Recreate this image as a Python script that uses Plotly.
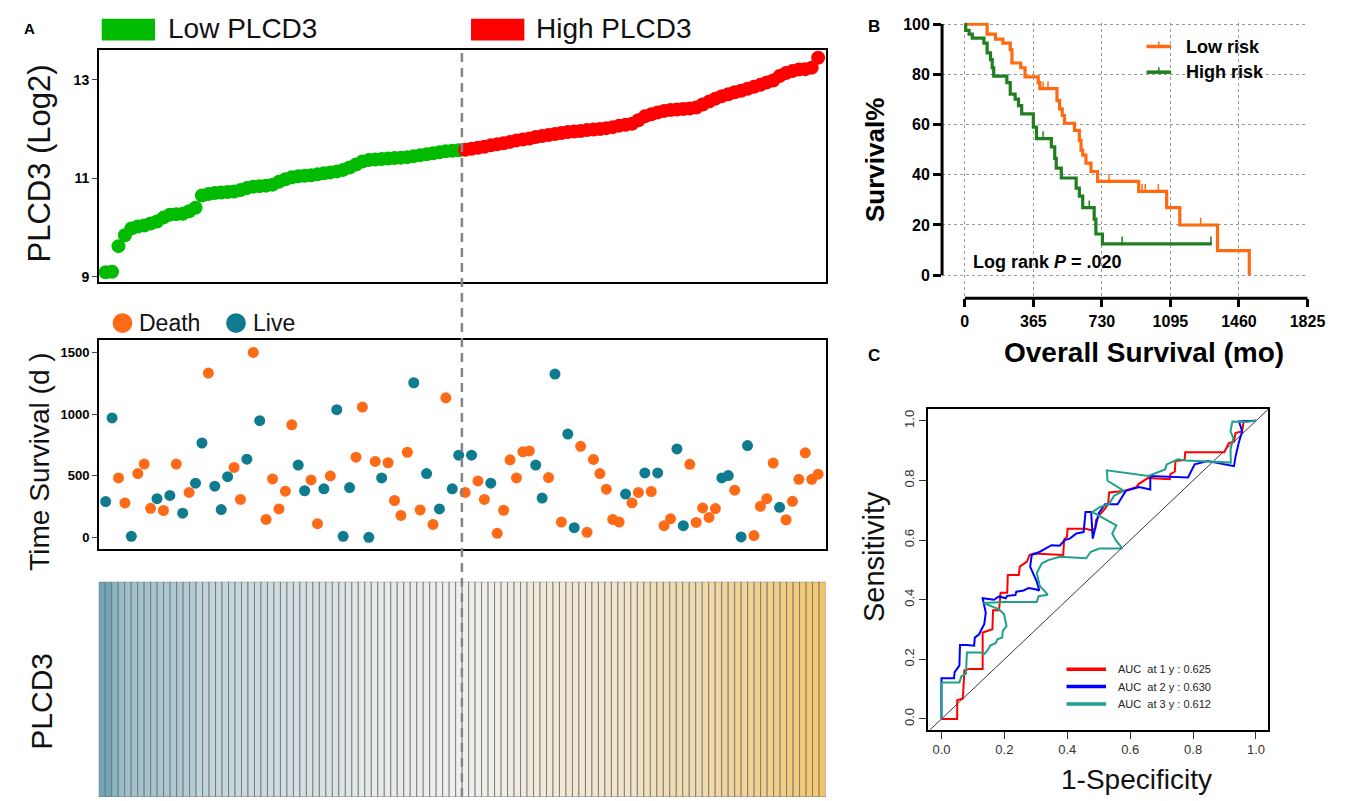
import plotly.graph_objects as go

W, H = 1359, 801
def fx(p): return p / W
def fy(p): return 1 - p / H

# ---------------- data ----------------
expr_low = [9.09, 9.10, 9.62, 9.84, 9.98, 10.02, 10.04, 10.08, 10.12, 10.20,
            10.26, 10.27, 10.28, 10.33, 10.40, 10.65, 10.68, 10.70, 10.71, 10.72,
            10.73, 10.76, 10.80, 10.83, 10.84, 10.85, 10.87, 10.93, 10.98, 11.02,
            11.04, 11.05, 11.06, 11.08, 11.10, 11.12, 11.14, 11.17, 11.22, 11.28,
            11.34, 11.37, 11.38, 11.39, 11.40, 11.41, 11.42, 11.43, 11.45, 11.47,
            11.49, 11.51, 11.53, 11.55, 11.56, 11.57]
expr_high = [11.58, 11.60, 11.62, 11.64, 11.67, 11.69, 11.71, 11.74, 11.77, 11.79,
             11.81, 11.84, 11.86, 11.88, 11.90, 11.92, 11.94, 11.95, 11.96, 11.98,
             11.99, 12.00, 12.02, 12.04, 12.07, 12.09, 12.11, 12.18, 12.26, 12.30,
             12.34, 12.37, 12.39, 12.40, 12.41, 12.42, 12.44, 12.50, 12.56, 12.62,
             12.67, 12.71, 12.75, 12.78, 12.82, 12.86, 12.90, 12.95, 12.99, 13.08,
             13.14, 13.18, 13.21, 13.22, 13.25, 13.45]

surv_days = [291, 969, 483, 280, 10, 518, 595, 237, 315, 219, 341, 595, 197, 365, 440,
             766, 1332, 416, 227, 493, 568, 309, 635, 1500, 947, 147, 475, 232, 376, 913,
             587, 379, 467, 112, 395, 499, 1036, 10, 405, 651, 1057, 2, 617, 483, 606,
             300, 179, 691, 1254, 224, 518, 106, 232, 1132, 395, 667,
             365, 667, 459, 309, 440, 34, 221, 630, 483, 694, 702, 587, 320, 486, 1324,
             125, 838, 80, 739, 42, 633, 518, 392, 147, 125, 352, 280, 365, 523, 373,
             523, 96, 152, 718, 96, 593, 122, 240, 163, 235, 483, 502, 384, 5, 745,
             16, 253, 315, 603, 245, 144, 293, 472, 686, 472, 513]
# 1 = Death, 0 = Live
surv_status = [0, 0, 1, 1, 0, 1, 1, 1, 0, 1, 0, 1, 0, 1, 0,
               0, 1, 0, 0, 0, 1, 1, 0, 1, 0, 1, 1, 1, 1, 1,
               0, 0, 1, 1, 0, 1, 0, 0, 0, 1, 1, 0, 1, 0, 1,
               1, 1, 1, 0, 1, 0, 1, 0, 1, 0, 0,
               1, 0, 1, 1, 0, 1, 1, 1, 1, 1, 1, 0, 0, 1, 0,
               1, 0, 0, 1, 1, 1, 1, 1, 1, 1, 0, 1, 1, 0, 1,
               0, 1, 1, 0, 0, 1, 1, 1, 1, 1, 0, 0, 1, 0, 0,
               1, 1, 1, 1, 0, 1, 1, 1, 1, 1, 1]

km_low_t = [0, 119, 163, 203, 242, 251, 298, 321, 391, 400, 491, 505, 519, 531, 584,
            610, 619, 628, 645, 672, 707, 926, 1075, 1145, 1346, 1515]
km_low_s = [100, 96, 94, 92.4, 89.8, 84.5, 82.6, 79, 76.7, 74.3, 69.5, 66.2, 63.6, 60.5, 57.7,
            53.7, 49.8, 47.8, 44.6, 41.3, 37.4, 33.4, 26.9, 20, 9.8, 0]
km_low_cens = [417, 443, 768, 944, 961, 1031, 1256]
km_high_t = [0, 5, 23, 40, 102, 119, 137, 146, 154, 224, 242, 268, 286, 303, 365, 382,
             461, 479, 487, 514, 593, 610, 628, 689, 698, 733, 1315]
km_high_s = [100, 97.5, 96, 94.4, 92.4, 88.5, 85.8, 82.6, 79.3, 76.7, 72.1, 70.1, 67.5, 64.2,
             59, 54.4, 51.1, 46.5, 42.6, 38.7, 34.7, 31.5, 26.9, 22.3, 16.4, 12.5, 12.5]
km_high_cens = [417, 663, 838, 1311]

roc1_x = [0, 0.05, 0.05, 0.068, 0.073, 0.089, 0.131, 0.131, 0.146, 0.162, 0.164, 0.183, 0.188,
          0.209, 0.211, 0.246, 0.249, 0.272, 0.280, 0.293, 0.387, 0.390, 0.399, 0.401, 0.460,
          0.475, 0.489, 0.491, 0.507, 0.517, 0.530, 0.533, 0.580, 0.619, 0.627, 0.656, 0.726,
          0.728, 0.742, 0.744, 0.773, 0.775, 0.899, 0.914, 0.930, 0.935, 0.956, 0.961, 1.0]
roc1_y = [0, 0, 0.063, 0.069, 0.163, 0.168, 0.168, 0.290, 0.295, 0.301, 0.365, 0.365, 0.423,
          0.423, 0.483, 0.483, 0.511, 0.528, 0.550, 0.555, 0.550, 0.602, 0.611, 0.638, 0.638,
          0.633, 0.638, 0.666, 0.690, 0.701, 0.721, 0.760, 0.765, 0.777, 0.788, 0.808, 0.804,
          0.821, 0.830, 0.865, 0.868, 0.895, 0.895, 0.926, 0.929, 0.959, 0.965, 0.998, 1.0]
roc2_x = [0, 0, 0.040, 0.042, 0.057, 0.059, 0.081, 0.104, 0.106, 0.120, 0.123, 0.136, 0.141,
          0.131, 0.167, 0.183, 0.204, 0.209, 0.235, 0.238, 0.261, 0.277, 0.298, 0.311, 0.303,
          0.282, 0.287, 0.313, 0.350, 0.376, 0.392, 0.408, 0.429, 0.452, 0.458, 0.476, 0.481,
          0.500, 0.520, 0.560, 0.586, 0.628, 0.664, 0.664, 0.784, 0.805, 0.846, 0.930, 0.935,
          0.945, 0.956, 0.946, 1.0]
roc2_y = [0, 0.137, 0.137, 0.157, 0.179, 0.248, 0.248, 0.246, 0.273, 0.284, 0.292, 0.318, 0.356,
          0.405, 0.400, 0.411, 0.405, 0.413, 0.416, 0.427, 0.431, 0.439, 0.435, 0.431, 0.461,
          0.511, 0.550, 0.561, 0.583, 0.581, 0.600, 0.605, 0.622, 0.627, 0.694, 0.694, 0.605,
          0.690, 0.720, 0.720, 0.765, 0.778, 0.770, 0.815, 0.810, 0.854, 0.865, 0.848, 0.880,
          0.926, 0.965, 0.998, 1.0]
roc3_x = [0, 0, 0.057, 0.063, 0.078, 0.081, 0.125, 0.136, 0.146, 0.155, 0.172, 0.178, 0.193,
          0.195, 0.207, 0.199, 0.183, 0.134, 0.199, 0.303, 0.309, 0.338, 0.324, 0.313, 0.303,
          0.319, 0.340, 0.376, 0.460, 0.475, 0.502, 0.575, 0.554, 0.543, 0.556, 0.480, 0.502,
          0.533, 0.549, 0.580, 0.528, 0.526, 0.658, 0.711, 0.716, 0.752, 0.778, 0.920, 0.919,
          0.928, 0.919, 0.925, 0.961, 1.0]
roc3_y = [0, 0.122, 0.122, 0.143, 0.152, 0.223, 0.223, 0.218, 0.229, 0.246, 0.254, 0.267, 0.273,
          0.295, 0.312, 0.351, 0.368, 0.389, 0.392, 0.392, 0.412, 0.417, 0.434, 0.445, 0.489,
          0.522, 0.533, 0.544, 0.539, 0.561, 0.572, 0.572, 0.600, 0.622, 0.649, 0.694, 0.710,
          0.721, 0.749, 0.765, 0.799, 0.834, 0.815, 0.837, 0.854, 0.871, 0.867, 0.860, 0.904,
          0.942, 0.965, 0.998, 0.996, 1.0]
roc_labels = ["AUC  at 1 y : 0.625", "AUC  at 2 y : 0.630", "AUC  at 3 y : 0.612"]
km_ticks = [0, 365, 730, 1095, 1460, 1825]

# ---------------- derived ----------------
expr = expr_low + expr_high
n = len(expr)
idx = list(range(1, n + 1))
n_low = len(expr_low)
split = n_low + 0.5

def step_val(ts, ss, t):
    v = ss[0]
    for a, b in zip(ts, ss):
        if a <= t:
            v = b
    return v

GREEN = '#00bb00'
RED = '#ff0000'
ORANGE = '#ff6a17'
TEAL = '#0e7b8f'
KM_OR = '#ff6a10'
KM_GR = '#1f7f1f'
FONT = 'Liberation Sans, Arial, sans-serif'

fig = go.Figure()

# --- Panel A top: expression ---
fig.add_trace(go.Scatter(x=idx[:n_low], y=expr_low, mode='markers',
                         marker=dict(size=14, color=GREEN), xaxis='x', yaxis='y'))
fig.add_trace(go.Scatter(x=idx[n_low:], y=expr_high, mode='markers',
                         marker=dict(size=14, color=RED), xaxis='x', yaxis='y'))

# --- Panel A middle: survival time ---
dx = [i for i, s in zip(idx, surv_status) if s == 1]
dy = [t for t, s in zip(surv_days, surv_status) if s == 1]
lx = [i for i, s in zip(idx, surv_status) if s == 0]
ly = [t for t, s in zip(surv_days, surv_status) if s == 0]
fig.add_trace(go.Scatter(x=dx, y=dy, mode='markers', marker=dict(size=11, color=ORANGE),
                         xaxis='x2', yaxis='y2'))
fig.add_trace(go.Scatter(x=lx, y=ly, mode='markers', marker=dict(size=11, color=TEAL),
                         xaxis='x2', yaxis='y2'))

# --- Panel A bottom: heat strip ---
emin, emax = min(expr), max(expr)
med = (expr_low[-1] + expr_high[0]) / 2
p = (med - emin) / (emax - emin)
fig.add_trace(go.Bar(x=idx, y=[1] * n, base=0, width=1,
                     marker=dict(color=expr, cmin=emin, cmax=emax,
                                 colorscale=[[0, '#70a6ba'], [p, '#f0f0ee'], [1, '#f3c465']],
                                 line=dict(color='#6f6f6f', width=0.8), showscale=False),
                     xaxis='x3', yaxis='y3'))

# --- Panel B: KM ---
fig.add_trace(go.Scatter(x=km_low_t, y=km_low_s, mode='lines', line=dict(color=KM_OR, width=3.2, shape='hv'),
                         xaxis='x4', yaxis='y4'))
fig.add_trace(go.Scatter(x=km_high_t, y=km_high_s, mode='lines', line=dict(color=KM_GR, width=3.2, shape='hv'),
                         xaxis='x4', yaxis='y4'))
fig.add_trace(go.Scatter(x=km_low_cens, y=[step_val(km_low_t, km_low_s, t) + 1.2 for t in km_low_cens],
                         mode='markers', marker=dict(symbol='line-ns', size=6, line=dict(color=KM_OR, width=1.5)),
                         xaxis='x4', yaxis='y4'))
fig.add_trace(go.Scatter(x=km_high_cens, y=[step_val(km_high_t, km_high_s, t) + 1.2 for t in km_high_cens],
                         mode='markers', marker=dict(symbol='line-ns', size=6, line=dict(color=KM_GR, width=1.5)),
                         xaxis='x4', yaxis='y4'))

# --- Panel C: ROC ---
fig.add_trace(go.Scatter(x=[-0.04, 1.04], y=[-0.04, 1.04], mode='lines',
                         line=dict(color='#222', width=0.9), xaxis='x5', yaxis='y5'))
roc_colors = ['#ff0000', '#0000ff', '#1fa08b']
for rx, ry, c in [(roc1_x, roc1_y, roc_colors[0]), (roc2_x, roc2_y, roc_colors[1]),
                  (roc3_x, roc3_y, roc_colors[2])]:
    fig.add_trace(go.Scatter(x=rx, y=ry, mode='lines', line=dict(color=c, width=2),
                             xaxis='x5', yaxis='y5'))

box = dict(showline=True, mirror=True, linecolor='black', linewidth=1.5, zeroline=False, showgrid=False)
xr = [1 - 7 / 6.5, 1 + 729 / 6.5]

layout = dict(
    width=W, height=H, margin=dict(l=0, r=0, t=0, b=0), autosize=False,
    paper_bgcolor='white', plot_bgcolor='white', showlegend=False,
    font=dict(family=FONT, color='black'),
    xaxis=dict(domain=[fx(100), fx(836)], range=xr, showticklabels=False, ticks='', **box),
    yaxis=dict(domain=[fy(278), fy(44)], range=[8.9, 13.6], tickvals=[9, 11, 13],
               ticks='outside', ticklen=5, tickwidth=1.2,
               tickfont=dict(size=14, family=FONT, weight='bold'), **box),
    xaxis2=dict(domain=[fx(100), fx(836)], range=xr, showticklabels=False, ticks='', anchor='y2', **box),
    yaxis2=dict(domain=[fy(549), fy(337)], range=[-94, 1602], tickvals=[0, 500, 1000, 1500],
                ticks='outside', ticklen=5, tickwidth=1.2, anchor='x2',
                tickfont=dict(size=13, family=FONT, weight='bold'), **box),
    xaxis3=dict(domain=[fx(100), fx(836)], range=[0.5, n + 0.5], visible=False, anchor='y3'),
    yaxis3=dict(domain=[fy(800), fy(582)], range=[0, 1], visible=False, anchor='x3'),
    xaxis4=dict(domain=[fx(954), fx(1325)], range=[-121, 1830], tickvals=km_ticks,
                ticks='outside', ticklen=8, tickwidth=2.5, tickcolor='black', anchor='y4',
                showline=False, zeroline=False, showgrid=True, gridcolor='#9a9a9a',
                griddash='dot', gridwidth=1,
                tickfont=dict(size=16, family=FONT, weight='bold')),
    yaxis4=dict(domain=[fy(295), fy(16)], range=[-9.2, 100.5], tickvals=[0, 20, 40, 60, 80, 100],
                ticks='outside', ticklen=8, tickwidth=2.5, tickcolor='black', anchor='x4',
                showline=False, zeroline=False, showgrid=True, gridcolor='#9a9a9a',
                griddash='dot', gridwidth=1,
                tickfont=dict(size=16, family=FONT, weight='bold')),
    xaxis5=dict(domain=[fx(940), fx(1284)], range=[-0.042, 1.038], tickvals=[0, 0.2, 0.4, 0.6, 0.8, 1.0],
                tickformat='.1f', ticks='outside', ticklen=7, tickcolor='#333', anchor='y5',
                tickfont=dict(size=13, color='#333'), **box),
    yaxis5=dict(domain=[fy(732), fy(407)], range=[-0.0365, 1.04], tickvals=[0, 0.2, 0.4, 0.6, 0.8, 1.0],
                tickformat='.1f', ticks='outside', ticklen=7, tickcolor='#333', anchor='x5',
                tickangle=-90, tickfont=dict(size=13, color='#333'), **box),
)
fig.update_layout(**layout)

shapes = []
# split dashed line through panel A
shapes.append(dict(type='line', xref='x', yref='paper', x0=split, x1=split,
                   y0=fy(800), y1=fy(44), layer='above',
                   line=dict(color='#858585', width=2.5, dash='9px,6px')))
# KM detached axis lines
shapes.append(dict(type='line', xref='x4 domain', yref='y4', x0=0, x1=0, y0=0, y1=100,
                   line=dict(color='black', width=3)))
shapes.append(dict(type='line', xref='x4', yref='y4 domain', x0=0, x1=1825, y0=0, y1=0,
                   line=dict(color='black', width=3)))
# top legend rectangles
shapes.append(dict(type='rect', xref='paper', yref='paper', x0=fx(103), x1=fx(157), y0=fy(34), y1=fy(12),
                   fillcolor=GREEN, line=dict(width=0)))
shapes.append(dict(type='rect', xref='paper', yref='paper', x0=fx(477), x1=fx(531), y0=fy(34), y1=fy(12),
                   fillcolor=RED, line=dict(width=0)))
# Death / Live legend dots
shapes.append(dict(type='circle', xref='paper', yref='paper', x0=fx(114), x1=fx(134), y0=fy(330), y1=fy(310),
                   fillcolor=ORANGE, line=dict(width=0)))
shapes.append(dict(type='circle', xref='paper', yref='paper', x0=fx(229), x1=fx(249), y0=fy(330), y1=fy(310),
                   fillcolor=TEAL, line=dict(width=0)))
# KM legend
for yy, c in [(40, KM_OR), (66, KM_GR)]:
    shapes.append(dict(type='line', xref='paper', yref='paper', x0=fx(1161), x1=fx(1186), y0=fy(yy), y1=fy(yy),
                       line=dict(color=c, width=3.5)))
    shapes.append(dict(type='line', xref='paper', yref='paper', x0=fx(1173.5), x1=fx(1173.5),
                       y0=fy(yy), y1=fy(yy - 5), line=dict(color=c, width=1.5)))
# ROC legend
for k, c in enumerate(roc_colors):
    yy = 670.7 + 17.5 * k
    shapes.append(dict(type='line', xref='paper', yref='paper', x0=fx(1080), x1=fx(1120), y0=fy(yy), y1=fy(yy),
                       line=dict(color=c, width=3.5)))
fig.update_layout(shapes=shapes)

ann = []
def txt(x, y, s, size, xanchor='center', angle=0, bold=False, color='black', family=FONT):
    ann.append(dict(xref='paper', yref='paper', x=fx(x), y=fy(y), text=s, showarrow=False,
                    xanchor=xanchor, yanchor='middle', textangle=angle,
                    font=dict(size=size, color=color, family=family, weight='bold' if bold else 'normal')))

txt(30, 22, 'A', 15, bold=True)
txt(885, 20, 'B', 17, bold=True)
txt(885, 353, 'C', 17, bold=True)
txt(168, 22, 'Low PLCD3', 28, xanchor='left', color='#111')
txt(541, 22, 'High PLCD3', 28, xanchor='left', color='#111')
txt(40, 158, 'PLCD3 (Log2)', 31, angle=-90, color='#111')
txt(139, 320, 'Death', 23, xanchor='left', color='#111')
txt(254, 320, 'Live', 23, xanchor='left', color='#111')
txt(40, 460, 'Time Survival (d )', 28, angle=-90, color='#111')
txt(42, 703, 'PLCD3', 30, angle=-90, color='#111')
# KM
txt(886, 155, 'Survival%', 26, angle=-90, bold=True)
txt(1158, 350, 'Overall Survival (mo)', 28, bold=True)
txt(1199, 40, 'Low risk', 18, xanchor='left', bold=True)
txt(1199, 66, 'High risk', 18, xanchor='left', bold=True)
txt(983, 258, 'Log rank <i>P</i> = .020', 18, xanchor='left', bold=True)
# ROC
txt(885, 556, 'Sensitivity', 29, angle=-90, color='#111')
txt(1151, 782, '1-Specificity', 28, color='#111')
for k, s in enumerate(roc_labels):
    txt(1130, 670.7 + 17.5 * k, s, 11, xanchor='left', color='#222')
fig.update_layout(annotations=ann)

fig.write_html('out.html',
               config={'displayModeBar': False},
               post_script="document.documentElement.style.margin='0px';"
                           "document.body.style.margin='0px';"
                           "document.body.style.padding='0px';"
                           "document.documentElement.style.overflow='hidden';"
                           "document.body.style.overflow='hidden';")
